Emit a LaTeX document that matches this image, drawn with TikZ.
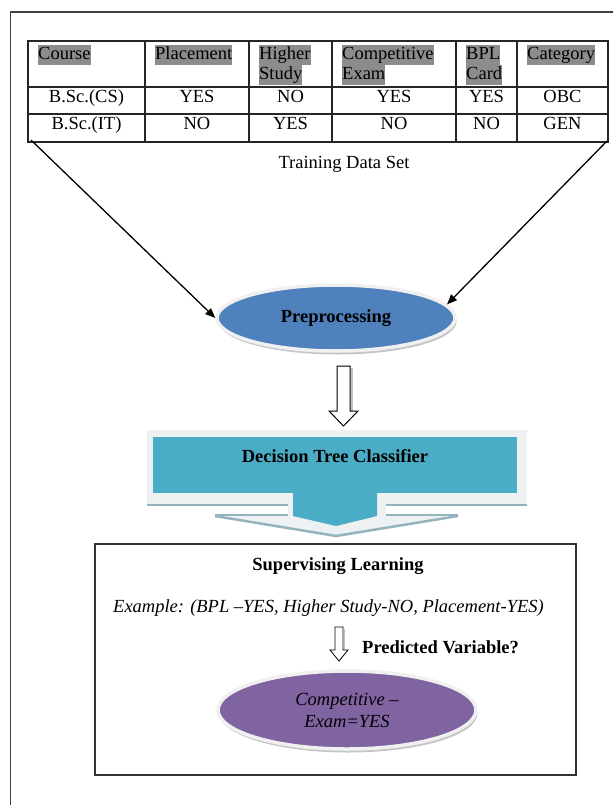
\documentclass[tikz,border=0pt]{standalone}
\usepackage{fontspec}
\setmainfont{Liberation Serif}
\usetikzlibrary{arrows.meta,shapes.geometric,shadows}
\definecolor{hlgray}{HTML}{8C8C8C}
\definecolor{preblue}{HTML}{4F81BD}
\definecolor{dtcteal}{HTML}{4BACC6}
\definecolor{bevelgray}{HTML}{EEF1F2}
\definecolor{bevelline}{HTML}{93B3BF}
\definecolor{outpurple}{HTML}{8064A2}
\newcommand{\hlt}[1]{{\setlength{\fboxsep}{0pt}\colorbox{hlgray}{\strut #1}}}
\begin{document}
\begin{tikzpicture}[x=1pt, y=-1pt,
    every node/.style={font=\fontsize{18.5}{20}\selectfont, inner sep=0pt},
    grid/.style={line width=1.2pt, draw=black!85},
    hdr/.style={anchor=north west, align=left},
    cell/.style={anchor=base},
    feed/.style={line width=1.3pt, -{Triangle[length=10pt,width=8pt]}},
    blob/.style={ellipse, draw=black!6, line width=3.5pt, drop shadow={shadow xshift=1.5pt, shadow yshift=-3.5pt, fill=black!45}},
    hollow/.style={draw=black, line width=1pt, fill=white, line join=miter}]
  \useasboundingbox (0,0) rectangle (613,805);
  \clip (0,0) rectangle (613,805);
  \draw[line width=1.5pt, draw=black!75] (10.5,12) rectangle (650,850);
  % training data table
  \draw[grid] (28,41) rectangle (608,142);
  \foreach \x in {145,249,332,456,517} \draw[grid] (\x,41) -- (\x,142);
  \foreach \y in {87,114} \draw[grid] (28,\y) -- (608,\y);
  \foreach \x/\t [count=\i] in {28/{\hlt{Course}}, 145/{\hlt{Placement}}, 249/{\hlt{Higher}\\\hlt{Study}},
      332/{\hlt{Competitive}\\\hlt{Exam}}, 456/{\hlt{BPL}\\\hlt{Card}}, 517/{\hlt{Category}}}
    \node[hdr] (hd\i) at (\x+10,45) {\t};
  \foreach \x/\a/\b [count=\i] in {86.5/{B.Sc.(CS)}/{B.Sc.(IT)}, 197/YES/NO, 290.5/NO/YES,
      394/YES/NO, 486.5/YES/NO, 562.5/OBC/GEN} {
    \node[cell] (ra\i) at (\x,103) {\a};
    \node[cell] (rb\i) at (\x,130) {\b};
  }
  \coordinate (tblSW) at (31,140);
  \coordinate (tblSE) at (607,141);
  \node[cell] (train) at (344,168) {Training Data Set};
  % preprocessing
  \node[blob, fill=preblue, minimum width=238, minimum height=66] (pre) at (336,318) {\textbf{Preprocessing}};
  \draw[feed] (tblSW) -- (pre.west);
  \draw[feed] (tblSE) -- (pre.7);
  \draw[line width=2pt, draw=black!25] (352,368) -- (352,412);
  \draw[hollow] (337,366) -- (350,366) -- (350,411) -- (358,411) -- (343.5,426) -- (329,411) -- (337,411) -- cycle;
  % classifier callout
  \fill[bevelgray] (147,430) -- (527,430) -- (527,505) -- (386,505) -- (386,514) -- (458,514) -- (336,536)
    -- (215,514) -- (288,514) -- (288,505) -- (147,505) -- cycle;
  \draw[bevelline, line width=2pt] (147,505) -- (288,505) (386,505) -- (527,505);
  \draw[bevelline, line width=2pt] (215,515) -- (288,515) (386,515) -- (458,515);
  \draw[bevelline, line width=2.5pt] (215,516) -- (336,536) -- (458,516);
  \fill[dtcteal] (153,437) rectangle (517,493);
  \fill[dtcteal] (293,492) -- (377,492) -- (377,516) -- (336,526) -- (293,516) -- cycle;
  \node[font=\fontsize{18.5}{20}\selectfont\bfseries] (dtc) at (335,456) {Decision Tree Classifier};
  % supervised learning box
  \draw[line width=1.5pt, draw=black!80] (95,544) rectangle (576,775);
  \node[cell, font=\fontsize{18.5}{20}\selectfont\bfseries] (suphd) at (338,570) {Supervising Learning};
  \node[anchor=base west, font=\fontsize{18.5}{20}\selectfont\itshape] (ex) at (113,612) {Example: (BPL –YES, Higher Study-NO, Placement-YES)};
  \draw[line width=1.5pt, draw=black!25] (344.5,629) -- (344.5,651);
  \draw[hollow, line width=0.8pt] (335,627) -- (343,627) -- (343,650) -- (348,650) -- (339,661) -- (330,650) -- (335,650) -- cycle;
  \node[anchor=base west, font=\fontsize{18.5}{20}\selectfont\bfseries] (pred) at (362,653) {Predicted Variable?};
  \node[blob, fill=outpurple, minimum width=258, minimum height=78, align=center,
    font=\fontsize{18.5}{22}\selectfont\itshape] (out) at (347,710) {Competitive –\\Exam=YES};
\end{tikzpicture}
\end{document}
